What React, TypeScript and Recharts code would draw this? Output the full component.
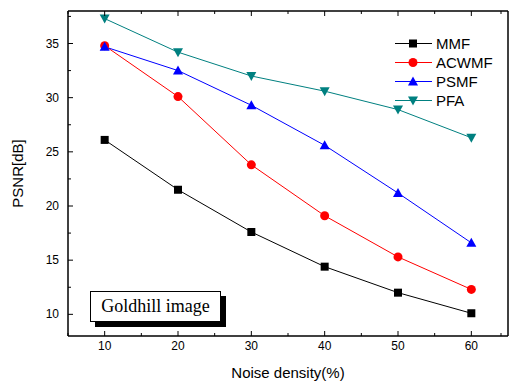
import { LineChart, Line, XAxis, YAxis } from "recharts";

// noise density (%) on x, PSNR in dB on y
const noiseDensity = [10, 20, 30, 40, 50, 60];
const mmf = [26.1, 21.5, 17.6, 14.4, 12.0, 10.1];
const acwmf = [34.8, 30.1, 23.8, 19.1, 15.3, 12.3];
const psmf = [34.7, 32.5, 29.3, 25.6, 21.2, 16.6];
const pfa = [37.3, 34.2, 32.0, 30.6, 28.9, 26.3];

const xTicks = [5, 10, 15, 20, 25, 30, 35, 40, 45, 50, 55, 60, 65];
const xLabeled = [10, 20, 30, 40, 50, 60];
const yTicks = [10, 12.5, 15, 17.5, 20, 22.5, 25, 27.5, 30, 32.5, 35, 37.5];
const yLabeled = [10, 15, 20, 25, 30, 35];

const data = noiseDensity.map((d, i) => ({
    density: d,
    MMF: mmf[i],
    ACWMF: acwmf[i],
    PSMF: psmf[i],
    PFA: pfa[i],
}));

const seriesList = [
    { key: "MMF", color: "#000000", shape: "square" },
    { key: "ACWMF", color: "#ff0000", shape: "circle" },
    { key: "PSMF", color: "#0000ff", shape: "up" },
    { key: "PFA", color: "#008080", shape: "down" },
];

const FONT = "'Liberation Sans', Arial, sans-serif";

const Marker = ({ cx, cy, shape, color }) => {
    if (cx == null || cy == null) return null;
    if (shape === "square") {
        return <rect x={cx - 4} y={cy - 4} width={8} height={8} fill={color} />;
    }
    if (shape === "circle") {
        return <circle cx={cx} cy={cy} r={4.5} fill={color} />;
    }
    if (shape === "up") {
        return <polygon points={`${cx},${cy - 5} ${cx - 5},${cy + 4} ${cx + 5},${cy + 4}`} fill={color} />;
    }
    return <polygon points={`${cx},${cy + 5} ${cx - 5},${cy - 4} ${cx + 5},${cy - 4}`} fill={color} />;
};

// ticks point inward; the labelled ones are longer
const makeTick = (side, labeled, showLabel) => (props) => {
    const { x, y, payload, index } = props;
    const v = payload.value;
    const major = labeled.includes(v);
    const len = major ? 5 : 3;
    let line;
    if (side === "bottom") line = <line x1={x} y1={y} x2={x} y2={y - len} stroke="#000" />;
    else if (side === "top") line = <line x1={x} y1={y} x2={x} y2={y + len} stroke="#000" />;
    else if (side === "left") line = <line x1={x} y1={y} x2={x + len} y2={y} stroke="#000" />;
    else line = <line x1={x} y1={y} x2={x - len} y2={y} stroke="#000" />;
    let label = null;
    if (showLabel && major) {
        if (side === "bottom") {
            label = <text x={x} y={y + 14} textAnchor="middle" fontSize={12} fontFamily={FONT} fill="#000">{v}</text>;
        } else {
            label = <text x={x - 9} y={y + 4} textAnchor="end" fontSize={12} fontFamily={FONT} fill="#000">{v}</text>;
        }
    }
    return (
        <g key={`${side}-${index}`}>
            {line}
            {label}
        </g>
    );
};

const axisLine = { stroke: "#000", strokeWidth: 1.5 };

export default function App() {
    return (
        <div style={{ position: "absolute", left: 0, top: 0, width: 509, height: 383, background: "#fff" }}>
            <LineChart width={509} height={383} data={data} margin={{ top: 10, right: 0, bottom: 0, left: 0 }}>
                <XAxis xAxisId="top" orientation="top" dataKey="density" type="number" domain={[5, 65]} ticks={xTicks}
                    height={1} axisLine={axisLine} tickLine={false} tickSize={0} tickMargin={0}
                    tick={makeTick("top", xLabeled, false)} />
                <XAxis xAxisId="x" dataKey="density" type="number" domain={[5, 65]} ticks={xTicks}
                    height={47} axisLine={axisLine} tickLine={false} tickSize={0} tickMargin={0}
                    tick={makeTick("bottom", xLabeled, true)}
                    label={{ value: "Noise density(%)", position: "insideBottom", offset: 5, style: { fill: "#000", fontSize: 15, fontFamily: FONT } }} />

                <YAxis yAxisId="right" orientation="right" type="number" domain={[8, 38]} ticks={yTicks}
                    width={1} axisLine={axisLine} tickLine={false} tickSize={0} tickMargin={0}
                    tick={makeTick("right", yLabeled, false)} />
                <YAxis yAxisId="y" type="number" domain={[8, 38]} ticks={yTicks}
                    width={68} axisLine={axisLine} tickLine={false} tickSize={0} tickMargin={0}
                    tick={makeTick("left", yLabeled, true)}
                    label={{ value: "PSNR[dB]", angle: -90, position: "insideLeft", offset: 18, style: { textAnchor: "middle", fill: "#000", fontSize: 15, fontFamily: FONT } }} />

                {seriesList.map((s) => (
                    <Line
                        key={s.key}
                        xAxisId="x"
                        yAxisId="y"
                        dataKey={s.key}
                        stroke={s.color}
                        strokeWidth={1}
                        isAnimationActive={false}
                        dot={(p) => <Marker key={`${s.key}-${p.index}`} cx={p.cx} cy={p.cy} shape={s.shape} color={s.color} />}
                        activeDot={false}
                    />
                ))}
            </LineChart>

            <div style={{ position: "absolute", left: 395, top: 34, fontFamily: FONT, fontSize: 15, lineHeight: "19px" }}>
                {seriesList.map((s) => (
                    <div key={s.key} style={{ display: "flex", alignItems: "center", height: 19 }}>
                        <svg width={38} height={19}>
                            <line x1={0} y1={9.5} x2={37} y2={9.5} stroke={s.color} strokeWidth={1} />
                            <Marker cx={18} cy={9.5} shape={s.shape} color={s.color} />
                        </svg>
                        <span style={{ marginLeft: 3, color: "#000" }}>{s.key}</span>
                    </div>
                ))}
            </div>

            <div
                style={{
                    position: "absolute",
                    left: 90,
                    top: 291,
                    width: 129,
                    height: 29,
                    border: "1px solid #000",
                    background: "#fff",
                    boxShadow: "5px 5px 0 #000",
                    fontFamily: "'Liberation Serif', 'Times New Roman', serif",
                    fontSize: 18,
                    lineHeight: "29px",
                    textAlign: "center",
                }}
            >
                Goldhill image
            </div>
        </div>
    );
}
